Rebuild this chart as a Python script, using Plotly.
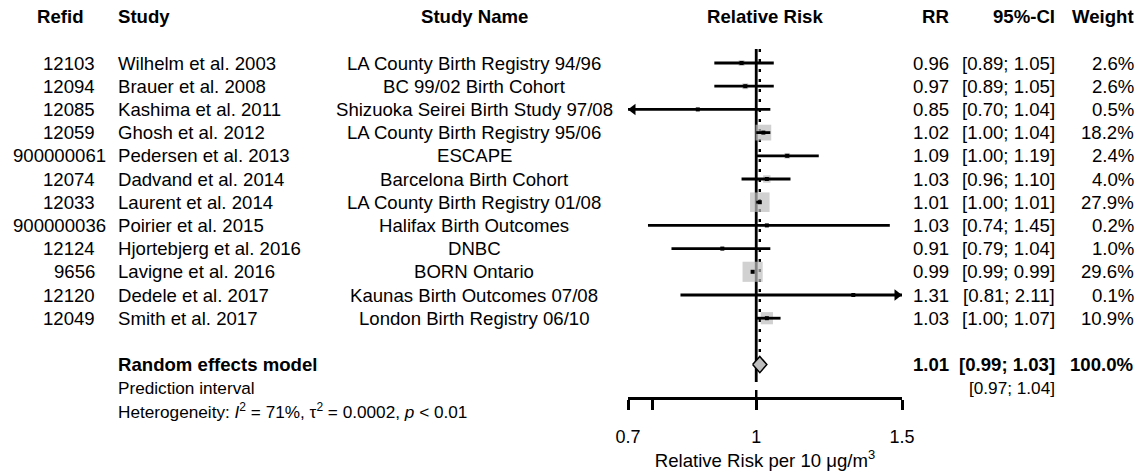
import math
import plotly.graph_objects as go

# ---------------- study data ----------------
refid = ["12103", "12094", "12085", "12059", "900000061", "12074",
         "12033", "900000036", "12124", "9656", "12120", "12049"]
study = ["Wilhelm et al. 2003", "Brauer et al. 2008", "Kashima et al. 2011",
         "Ghosh et al. 2012", "Pedersen et al. 2013", "Dadvand et al. 2014",
         "Laurent et al. 2014", "Poirier et al. 2015", "Hjortebjerg et al. 2016",
         "Lavigne et al. 2016", "Dedele et al. 2017", "Smith et al. 2017"]
study_name = ["LA County Birth Registry 94/96", "BC 99/02 Birth Cohort",
              "Shizuoka Seirei Birth Study 97/08", "LA County Birth Registry 95/06",
              "ESCAPE", "Barcelona Birth Cohort", "LA County Birth Registry 01/08",
              "Halifax Birth Outcomes", "DNBC", "BORN Ontario",
              "Kaunas Birth Outcomes 07/08", "London Birth Registry 06/10"]
rr = [0.96, 0.97, 0.85, 1.02, 1.09, 1.03, 1.01, 1.03, 0.91, 0.99, 1.31, 1.03]
ci_lo = [0.89, 0.89, 0.70, 1.00, 1.00, 0.96, 1.00, 0.74, 0.79, 0.99, 0.81, 1.00]
ci_hi = [1.05, 1.05, 1.04, 1.04, 1.19, 1.10, 1.01, 1.45, 1.04, 0.99, 2.11, 1.07]
weight = [2.6, 2.6, 0.5, 18.2, 2.4, 4.0, 27.9, 0.2, 1.0, 29.6, 0.1, 10.9]

# pooled (random effects) result
re_rr, re_lo, re_hi, re_weight = 1.01, 0.99, 1.03, 100.0
pi_lo, pi_hi = 0.97, 1.04
het_i2, het_tau2, het_p = 71, 0.0002, "0.01"

# x axis
tick_vals = [0.7, 1, 1.5]
tick_text = ["0.7", "1", "1.5"]
minor_tick_vals = [0.75]
x_title = "Relative Risk per 10 μg/m<sup>3</sup>"

# ---------------- layout constants ----------------
W, H = 1147, 476
FONT = "Liberation Sans, Arial, sans-serif"
FS = 18.6
FS_SMALL = 17.2

ROW0_PX, ROW_PX = 63.0, 23.2      # centre of first study row, row pitch (px)


def row_of_px(py):
    return 1 + (py - ROW0_PX) / ROW_PX


X0_PX, X1_PX = 628.0, 902.0       # forest panel extent
XMIN, XMAX = 0.7, 1.5
AXIS_PX = 398.0
PX_PER_LOG = (X1_PX - X0_PX) / math.log(XMAX / XMIN)

n = len(study)
rows = list(range(1, n + 1))
ROW_HEADER = -1
ROW_RE = n + 2
ROW_PI = n + 3
ROW_HET = n + 4

COL_REFID_R = 95
COL_REFID_C = 59.5
COL_STUDY_L = 118
COL_NAME_C = 474
COL_RR_R = 949
COL_CI_R = 1055
COL_W_R = 1134

fig = go.Figure()

black = "black"
top_row = rows[0] - 0.6

# line of no effect
fig.add_trace(go.Scatter(x=[1, 1], y=[top_row, ROW_RE + 0.75], mode="lines",
                         line=dict(color=black, width=2.8),
                         hoverinfo="skip", showlegend=False))
fig.add_trace(go.Scatter(x=[1, 1], y=[row_of_px(AXIS_PX - 8), row_of_px(AXIS_PX)],
                         mode="lines", line=dict(color=black, width=2.5),
                         hoverinfo="skip", showlegend=False))
# pooled-estimate reference line
fig.add_trace(go.Scatter(x=[re_rr, re_rr], y=[top_row, ROW_RE - 0.4], mode="lines",
                         line=dict(color=black, width=2.4, dash="3px,7px"),
                         hoverinfo="skip", showlegend=False))

# weight boxes (area proportional to weight)
fig.add_trace(go.Scatter(
    x=rr, y=rows, mode="markers",
    marker=dict(symbol="square", size=[3.7 * math.sqrt(w) for w in weight],
                color="#BEBEBE", line=dict(width=0)),
    hoverinfo="skip", showlegend=False))

# confidence intervals, clipped to the axis range
cx, cy = [], []
for k, lo, hi in zip(rows, ci_lo, ci_hi):
    cx += [max(lo, XMIN), min(hi, XMAX), None]
    cy += [k, k, None]
fig.add_trace(go.Scatter(x=cx, y=cy, mode="lines", line=dict(color=black, width=2.8),
                         hoverinfo="skip", showlegend=False))

# arrows where an interval runs past the axis limits
ARROW = 10
left_rows = [k for k, lo in zip(rows, ci_lo) if lo <= XMIN]
right_rows = [k for k, hi in zip(rows, ci_hi) if hi >= XMAX]
if left_rows:
    fig.add_trace(go.Scatter(
        x=[XMIN * math.exp(ARROW / 2 / PX_PER_LOG)] * len(left_rows), y=left_rows,
        mode="markers", marker=dict(symbol="triangle-left", size=ARROW, color=black),
        cliponaxis=False, hoverinfo="skip", showlegend=False))
if right_rows:
    fig.add_trace(go.Scatter(
        x=[XMAX * math.exp(-ARROW / 2 / PX_PER_LOG)] * len(right_rows), y=right_rows,
        mode="markers", marker=dict(symbol="triangle-right", size=ARROW, color=black),
        cliponaxis=False, hoverinfo="skip", showlegend=False))

# point estimates
fig.add_trace(go.Scatter(x=rr, y=rows, mode="markers",
                         marker=dict(symbol="square", size=4, color=black),
                         hoverinfo="skip", showlegend=False))

# pooled diamond
DH = 0.35
fig.add_trace(go.Scatter(
    x=[re_lo, re_rr, re_hi, re_rr, re_lo],
    y=[ROW_RE, ROW_RE - DH, ROW_RE, ROW_RE + DH, ROW_RE],
    mode="lines", fill="toself", fillcolor="#BEBEBE",
    line=dict(color=black, width=1.5), hoverinfo="skip", showlegend=False))

# ---------------- text columns ----------------
ann = []


def txt(text, px, row, anchor, bold=False, size=FS):
    ann.append(dict(text=f"<b>{text}</b>" if bold else text, x=px / W, xref="paper",
                    y=row, yref="y", xanchor=anchor, yanchor="middle", showarrow=False,
                    borderpad=0, borderwidth=0,
                    font=dict(family=FONT, size=size, color=black)))


# headers
txt("Refid", COL_REFID_C, ROW_HEADER, "center", bold=True)
txt("Study", COL_STUDY_L, ROW_HEADER, "left", bold=True)
txt("Study Name", COL_NAME_C, ROW_HEADER, "center", bold=True)
txt("Relative Risk", (X0_PX + X1_PX) / 2, ROW_HEADER, "center", bold=True)
txt("RR", COL_RR_R, ROW_HEADER, "right", bold=True)
txt("95%-CI", COL_CI_R, ROW_HEADER, "right", bold=True)
txt("Weight", COL_W_R, ROW_HEADER, "right", bold=True)

for k, rid, s, nm, e, lo, hi, w in zip(rows, refid, study, study_name, rr, ci_lo, ci_hi, weight):
    if len(rid) > 5:
        txt(rid, COL_REFID_C, k, "center")
    else:
        txt(rid, COL_REFID_R, k, "right")
    txt(s, COL_STUDY_L, k, "left")
    txt(nm, COL_NAME_C, k, "center")
    txt(f"{e:.2f}", COL_RR_R, k, "right")
    txt(f"[{lo:.2f}; {hi:.2f}]", COL_CI_R, k, "right")
    txt(f"{w:.1f}%", COL_W_R, k, "right")

txt("Random effects model", COL_STUDY_L, ROW_RE, "left", bold=True)
txt(f"{re_rr:.2f}", COL_RR_R, ROW_RE, "right", bold=True)
txt(f"[{re_lo:.2f}; {re_hi:.2f}]", COL_CI_R, ROW_RE, "right", bold=True)
txt(f"{re_weight:.1f}%", COL_W_R, ROW_RE, "right", bold=True)

txt("Prediction interval", COL_STUDY_L, ROW_PI, "left", size=FS_SMALL)
txt(f"[{pi_lo:.2f}; {pi_hi:.2f}]", COL_CI_R, ROW_PI, "right", size=FS_SMALL)

txt(f"Heterogeneity: <i>I</i><sup>2</sup> = {het_i2}%, τ<sup>2</sup> = {het_tau2:.4f}, "
    f"<i>p</i> &lt; {het_p}", COL_STUDY_L, ROW_HET, "left", size=FS_SMALL)

fig.update_layout(
    template="none",
    width=W, height=H,
    margin=dict(l=0, r=0, t=0, b=0, pad=0),
    paper_bgcolor="white", plot_bgcolor="white",
    showlegend=False,
    annotations=ann,
    xaxis=dict(type="log", range=[math.log10(XMIN), math.log10(XMAX)],
               domain=[X0_PX / W, X1_PX / W], anchor="free", position=1 - AXIS_PX / H,
               automargin=False, showline=True, linecolor=black, linewidth=2.5,
               ticks="outside", ticklen=10, tickwidth=2.5, tickcolor=black,
               tickvals=tick_vals, ticktext=tick_text, ticklabelstandoff=12,
               tickfont=dict(family=FONT, size=18, color=black),
               minor=dict(tickvals=minor_tick_vals, ticks="outside", ticklen=10,
                          tickwidth=2.5, tickcolor=black, showgrid=False),
               showgrid=False, zeroline=False, fixedrange=True,
               title=dict(text=x_title, standoff=4,
                          font=dict(family=FONT, size=FS, color=black))),
    yaxis=dict(range=[row_of_px(H), row_of_px(0)], domain=[0, 1], visible=False,
               automargin=False, fixedrange=True),
)

fig.write_html("out.html")
